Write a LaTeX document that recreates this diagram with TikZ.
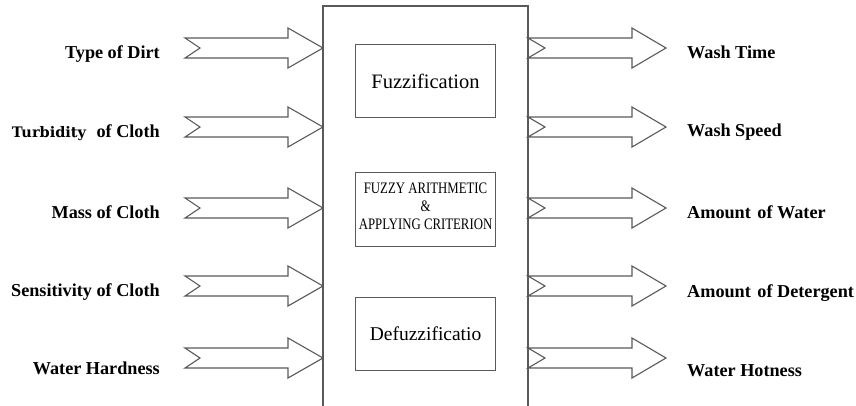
\documentclass[tikz,border=0pt]{standalone}
\usepackage{fontspec}
\setmainfont{Liberation Serif}
\newfontfamily\turbfont{DejaVu Serif}
\usetikzlibrary{calc}
\definecolor{linegray}{HTML}{5A5A5A}
\tikzset{
  box/.style={draw=linegray, line width=1.1pt, fill=white},
  blk/.style={draw=linegray, line width=1.1pt, fill=white, line join=miter},
  lab/.style={inner sep=0pt, font=\bfseries\fontsize{18.2}{20}\selectfont},
  inner/.style={box, inner sep=0pt, minimum width=140pt, minimum height=73pt},
}
% \blockarrow{tail}{tip}{notch depth}{head length}
\newcommand\blockarrow[4]{%
  \draw[blk] let \p1=(#1), \p2=(#2) in
    (\x1,\y1+10pt) -- (\x2-#4,\y1+10pt) -- (\x2-#4,\y1+20pt) -- (\x2,\y1)
    -- (\x2-#4,\y1-20pt) -- (\x2-#4,\y1-10pt) -- (\x1,\y1-10pt)
    -- (\x1+#3,\y1) -- cycle;}
\begin{document}
\begin{tikzpicture}[x=1pt,y=-1pt]
\useasboundingbox (0,0) rectangle (856,405);
% main block
\draw[box] (323,6) rectangle (528,430);
\coordinate (mainW) at (323,6);
\coordinate (mainE) at (528,6);
% inner blocks
\node[inner, anchor=north west] (fuzz) at (355,44) {\fontsize{20.5}{22}\selectfont Fuzzification};
\node[inner, anchor=north west, minimum height=74pt] (arith) at (355,172) {};
\node[inner sep=0pt, align=center, font=\fontsize{16}{18}\selectfont] (arithtxt) at ($(arith.center)+(0,-3)$)
  {\scalebox{0.8}[1]{FUZZY ARITHMETIC}\\
   \scalebox{0.8}[1]{\&}\\
   \scalebox{0.8}[1]{APPLYING CRITERION}};
\node[inner, anchor=north west] (defuzz) at (355,297) {\fontsize{19.5}{22}\selectfont Defuzzificatio};
% arrows
\foreach \i/\c in {1/48,2/127,3/208,4/286,5/358}{
  \coordinate (inTail\i) at (185,\c);
  \coordinate (inTip\i) at (mainW |- 0,\c);
  \coordinate (outTail\i) at (mainE |- 0,\c);
  \coordinate (outTip\i) at (666,\c);
  \blockarrow{inTail\i}{inTip\i}{15pt}{35pt}
  \blockarrow{outTail\i}{outTip\i}{17pt}{34pt}
}
% input labels
\node[lab, anchor=base east] (l1) at (160,58) {Type of Dirt};
\node[lab, anchor=base east] (l2) at (160,137) {{\turbfont\fontsize{14.5}{16}\selectfont Turbidity}\hspace{6pt} of Cloth};
\node[lab, anchor=base east] (l3) at (160,218) {Mass of Cloth};
\node[lab, anchor=base east] (l4) at (160,296) {Sensitivity of Cloth};
\node[lab, anchor=base east] (l5) at (160,374) {Water Hardness};
% output labels
\node[lab, anchor=base west] (r1) at (687,58) {Wash Time};
\node[lab, anchor=base west] (r2) at (687,136) {Wash Speed};
\node[lab, anchor=base west] (r3) at (687,218) {Amount\hspace{2pt} of Water};
\node[lab, anchor=base west] (r4) at (687,297) {Amount\hspace{2pt} of Detergent};
\node[lab, anchor=base west] (r5) at (687,376) {Water Hotness};
\end{tikzpicture}
\end{document}
